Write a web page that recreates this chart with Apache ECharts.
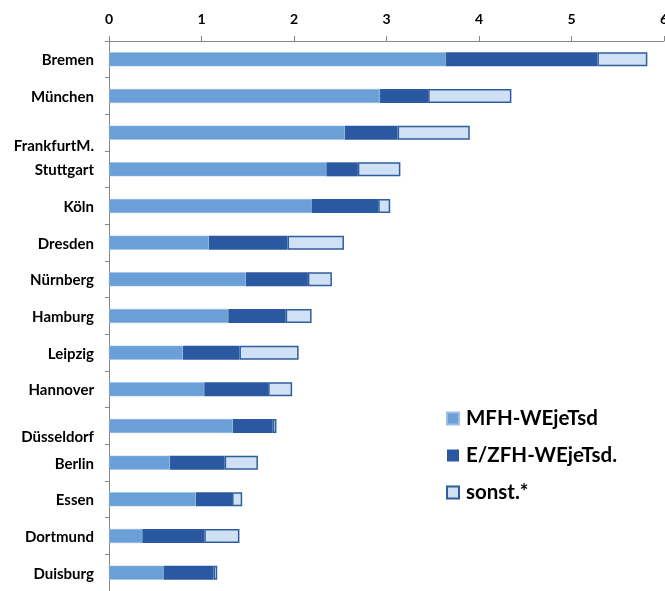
<!DOCTYPE html>
<html><head><meta charset="utf-8">
<script src="https://cdn.jsdelivr.net/npm/echarts@6/dist/echarts.min.js"></script>
<style>html,body{margin:0;padding:0;background:#fff}#c{width:665px;height:591px}</style>
</head><body><div id="c"></div>
<script>
const cities = ['Bremen','München','FrankfurtM.','Stuttgart','Köln','Dresden','Nürnberg','Hamburg','Leipzig','Hannover','Düsseldorf','Berlin','Essen','Dortmund','Duisburg'];
const mfh   = [3.64, 2.93, 2.55, 2.35, 2.19, 1.08, 1.48, 1.29, 0.80, 1.03, 1.34, 0.66, 0.94, 0.36, 0.59];
const ezfh  = [1.64, 0.52, 0.57, 0.34, 0.72, 0.85, 0.67, 0.62, 0.61, 0.69, 0.43, 0.59, 0.39, 0.67, 0.54];
const sonst = [0.54, 0.90, 0.78, 0.46, 0.13, 0.61, 0.26, 0.28, 0.64, 0.26, 0.04, 0.36, 0.11, 0.38, 0.04];
const xTicks = [0, 1, 2, 3, 4, 5, 6];
const names = ['MFH-WEjeTsd', 'E/ZFH-WEjeTsd.', 'sonst.*'];
const shiftedA = ['FrankfurtM.'];
const shiftedB = ['Düsseldorf'];

const font = 'Lato';
const labFont = {fontFamily: font, fontSize: 15, fontWeight: 'bold', color: '#000'};
const chart = echarts.init(document.getElementById('c'));
chart.setOption({
  animation: false,
  textStyle: {fontFamily: font},
  grid: {left: 109, right: 1, top: 41, bottom: 0, outerBoundsMode: 'none', containLabel: false},
  legend: {
    orient: 'vertical', left: 441, top: 403, itemGap: 16,
    icon: 'rect', itemWidth: 12, itemHeight: 12,
    textStyle: {fontFamily: font, fontSize: 20.5, lineHeight: 21, fontWeight: 'bold', color: '#000', padding: [0, 0, 0, 2]},
    data: names
  },
  xAxis: {
    type: 'value', position: 'top', min: xTicks[0], max: xTicks[xTicks.length-1], interval: 1,
    axisLine: {show: true, lineStyle: {color: '#888', width: 1}},
    axisTick: {show: true, length: 5, lineStyle: {color: '#888'}},
    splitLine: {show: false},
    axisLabel: {fontFamily: font, fontSize: 14, fontWeight: 'bold', color: '#000', margin: 15}
  },
  yAxis: {
    type: 'category', inverse: true, data: cities,
    axisLine: {show: true, lineStyle: {color: '#888', width: 1}},
    axisTick: {show: true, length: 4, alignWithLabel: false, lineStyle: {color: '#888'}},
    axisLabel: Object.assign({}, labFont, {
      margin: 15,
      formatter: v => shiftedA.includes(v) ? '{ea| }\n{s|' + v + '}'
                    : shiftedB.includes(v) ? '{eb| }\n{s|' + v + '}' : '{n|' + v + '}',
      rich: {
        ea: {lineHeight: 26, fontSize: 2},
        eb: {lineHeight: 22, fontSize: 2},
        s: Object.assign({}, labFont, {lineHeight: 18}),
        n: Object.assign({}, labFont, {lineHeight: 18, padding: [2, 0, 0, 0]})
      }
    })
  },
  series: [
    {name: names[0], type: 'bar', stack: 'a', data: mfh, barWidth: 14,
     itemStyle: {color: '#6A9FD7', borderColor: '#9BBDE6', borderWidth: 0.5}},
    {name: names[1], type: 'bar', stack: 'a', data: ezfh, barWidth: 14,
     itemStyle: {color: '#2A59A1'}},
    {name: names[2], type: 'bar', stack: 'a', data: sonst, barWidth: 14,
     itemStyle: {color: '#D0E1F5', borderColor: '#2F5E9E', borderWidth: 1.5}}
  ]
});
</script></body></html>
